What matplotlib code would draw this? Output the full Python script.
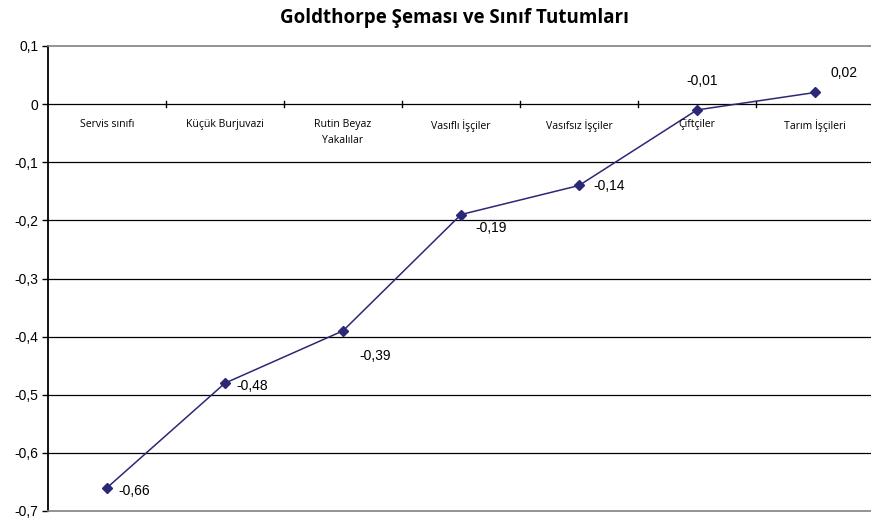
import matplotlib.pyplot as plt
import matplotlib.ticker as tkr

categories = ['Servis sınıfı', 'Küçük Burjuvazi', 'Rutin Beyaz\nYakalılar', 'Vasıflı İşçiler',
              'Vasıfsız İşçiler', 'Çiftçiler', 'Tarım İşçileri']
values = [-0.66, -0.48, -0.39, -0.19, -0.14, -0.01, 0.02]
# label offsets in points (dx, dy)
offsets = [(8, -2), (8, -2), (12, -18), (10, -10), (10, 0), (-8, 21), (11, 14)]
yticks = [0.1, 0, -0.1, -0.2, -0.3, -0.4, -0.5, -0.6, -0.7]

fig = plt.figure(figsize=(8.71, 5.19), dpi=100)
# plot area runs past the right edge of the picture, as in the original
ax = fig.add_axes([48 / 871, 8 / 519, 826 / 871, 465 / 519])

x = list(range(len(values)))
ax.plot(x, values, color='#2b2875', linewidth=1.1, marker='D', markersize=5.5,
        markerfacecolor='#2b2875', markeredgecolor='#2b2875', zorder=3, clip_on=False)

def fmt(v):
    return f'{v:.2f}'.replace('.', ',')

for xi, v, (dx, dy) in zip(x, values, offsets):
    ax.annotate(fmt(v), (xi, v), xytext=(dx, dy), textcoords='offset points',
                ha='left', va='center', fontsize=10, family='Liberation Sans')

ax.set_xlim(-0.5, len(values) - 0.5)
ax.set_ylim(-0.7, 0.1)
ax.set_yticks(yticks)
ax.yaxis.set_major_formatter(tkr.FuncFormatter(
    lambda v, p: '0' if abs(v) < 1e-9 else f'{v:.1f}'.replace('.', ',')))
for lab in ax.get_yticklabels():
    lab.set_family('Liberation Sans')
    lab.set_fontsize(10)

for yv in yticks[1:-1]:
    ax.axhline(yv, color='black', linewidth=0.9, zorder=1)

# category tick marks on the zero line
ax.set_xticks([])
for b in range(1, len(values)):
    ax.plot([b - 0.5, b - 0.5], [-0.005, 0.005], color='black', linewidth=1, zorder=2)
for xi, c in enumerate(categories):
    ax.text(xi, -0.026, c, ha='center', va='top', fontsize=7.6, family='Open Sans',
            linespacing=1.6)

ax.spines['left'].set_linewidth(1.3)
ax.spines['right'].set_visible(False)
for s in ['top', 'bottom']:
    ax.spines[s].set_color('#808080')
    ax.spines[s].set_linewidth(1.2)
ax.tick_params(axis='y', length=4, width=1, pad=3)

fig.text(455 / 871, (519 - 18) / 519, 'Goldthorpe Şeması ve Sınıf Tutumları',
         ha='center', va='center', fontsize=13.5, fontweight='bold', family='Open Sans')

fig.savefig('out.png', dpi=100)
